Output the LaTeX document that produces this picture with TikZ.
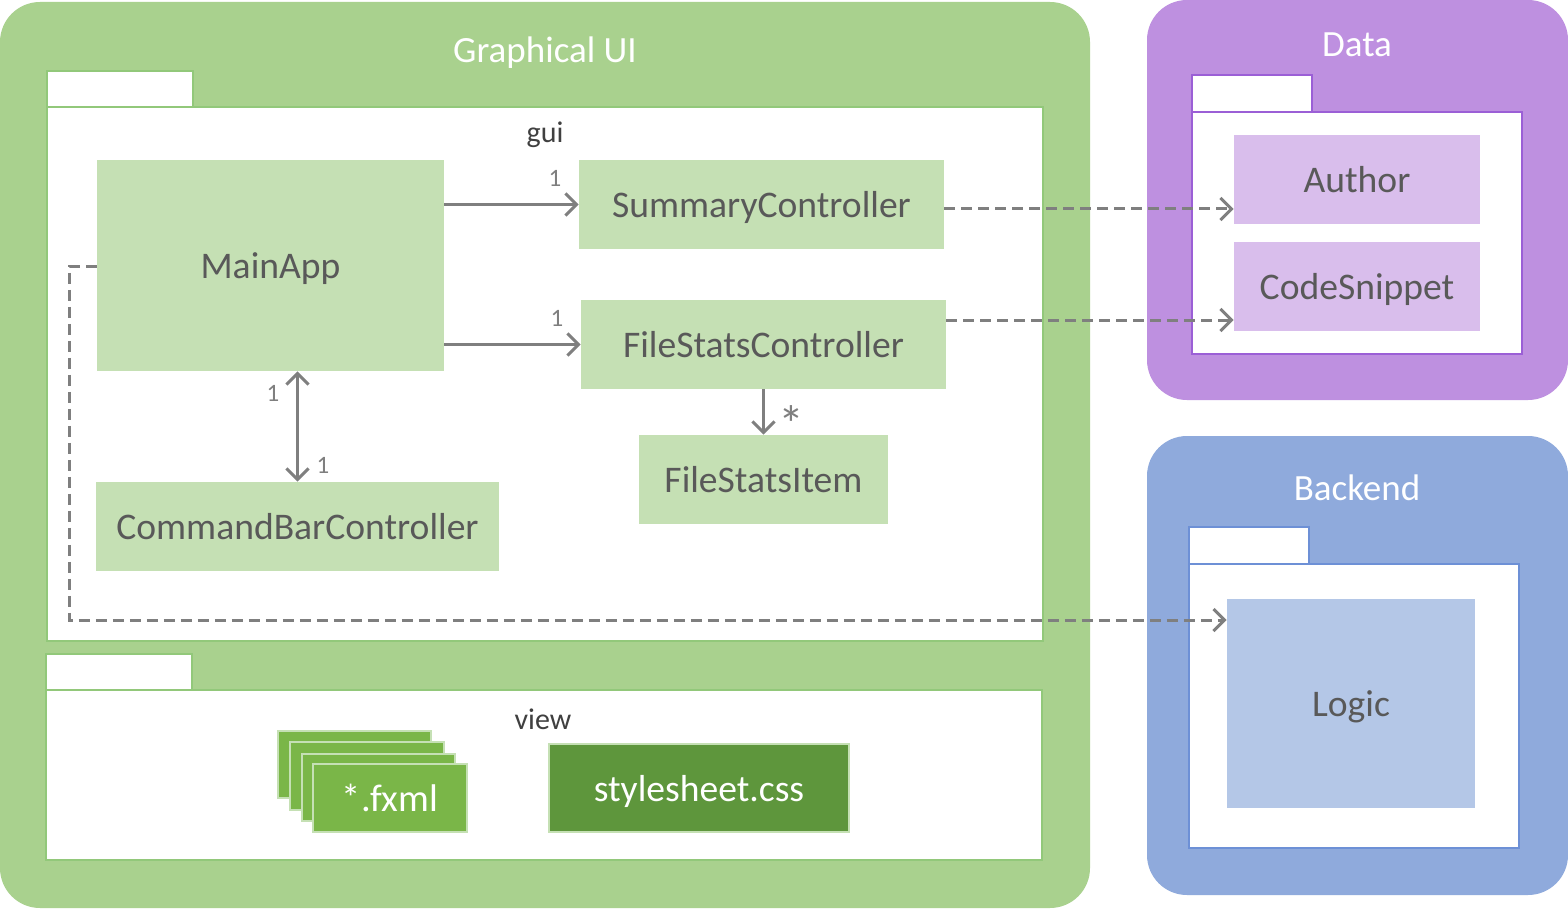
\documentclass[tikz,border=0pt]{standalone}
\usepackage{fontspec}
\setmainfont{Carlito}
\usetikzlibrary{arrows.meta,calc}
\definecolor{uigreen}{HTML}{A9D18E}
\definecolor{pkggreen}{HTML}{92C87A}
\definecolor{clsgreen}{HTML}{C5E0B4}
\definecolor{fxgreen}{HTML}{7AB648}
\definecolor{cssgreen}{HTML}{5E963C}
\definecolor{datapurple}{HTML}{BE90E0}
\definecolor{pkgpurple}{HTML}{9B5FD6}
\definecolor{clspurple}{HTML}{D9BEEC}
\definecolor{backblue}{HTML}{8FAADC}
\definecolor{pkgblue}{HTML}{6D90D6}
\definecolor{clsblue}{HTML}{B4C7E7}
\definecolor{txt}{HTML}{595959}
\definecolor{arr}{HTML}{7F7F7F}
\tikzset{
  cls/.style={draw=none, inner sep=0pt, text depth=0pt, font=\fontsize{18.8}{22}\selectfont, text=txt},
  grp/.style={rounded corners=20pt},
  pkgbox/.style={fill=white, line width=1pt},
  title/.style={text=white, font=\fontsize{18.5}{22}\selectfont},
  pkglabel/.style={text=black!75, font=\fontsize{15}{18}\selectfont},
  mult/.style={text=arr, font=\fontsize{12.5}{15}\selectfont},
  assoc/.style={draw=arr, line width=1.5pt, -{Straight Barb[length=5.5pt,width=11pt,line width=1.5pt]}},
  dep/.style={assoc, dash pattern=on 5.5pt off 3pt},
  fx/.style={fill=fxgreen, draw=clsgreen, line width=1pt},
}
\begin{document}
\begin{tikzpicture}[x=0.5pt,y=-0.5pt]
\path[use as bounding box, fill=white] (0,0) rectangle (1568,909);
% groups
\fill[uigreen, grp] (0,2) rectangle (1090,908);
\fill[datapurple, grp] (1147,0) rectangle (1568,400);
\fill[backblue, grp] (1147,436) rectangle (1568,895);
\node[title] (uititle) at (545,53) {Graphical UI};
\node[title] (datatitle) at (1357,45) {Data};
\node[title] (backtitle) at (1357,488) {Backend};
% gui package
\draw[pkgbox, draw=pkggreen] (47,71) rectangle (193,107);
\draw[pkgbox, draw=pkggreen] (47,107) rectangle (1043,641);
\node[pkglabel] (guilabel) at (545,135) {gui};
% view package
\draw[pkgbox, draw=pkggreen] (46,654) rectangle (192,690);
\draw[pkgbox, draw=pkggreen] (46,690) rectangle (1042,860);
\node[pkglabel] (viewlabel) at (543,719) {view};
% data package
\draw[pkgbox, draw=pkgpurple] (1192,75) rectangle (1312,112);
\draw[pkgbox, draw=pkgpurple] (1192,112) rectangle (1522,354);
% backend package
\draw[pkgbox, draw=pkgblue] (1189,527) rectangle (1309,564);
\draw[pkgbox, draw=pkgblue] (1189,564) rectangle (1519,848);
% classes
\node[cls, fill=clsgreen, minimum width=173.5pt, minimum height=105.5pt] (main) at (270.5,265.5) {MainApp};
\node[cls, fill=clsgreen, minimum width=182.5pt, minimum height=44.5pt] (summary) at (761.5,204.5) {SummaryController};
\node[cls, fill=clsgreen, minimum width=182.5pt, minimum height=44.5pt] (filestats) at (763.5,344.5) {FileStatsController};
\node[cls, fill=clsgreen, minimum width=124.5pt, minimum height=44.5pt] (item) at (763.5,479.5) {FileStatsItem};
\node[cls, fill=clsgreen, minimum width=201.5pt, minimum height=44.5pt] (cmdbar) at (297.5,526.5) {CommandBarController};
\node[cls, fill=clspurple, minimum width=123pt, minimum height=44.5pt] (author) at (1357,179.5) {Author};
\node[cls, fill=clspurple, minimum width=123pt, minimum height=44.5pt] (snippet) at (1357,286.5) {CodeSnippet};
\node[cls, fill=clsblue, minimum width=124pt, minimum height=104.5pt] (logic) at (1351,703.5) {Logic};
% view files
\draw[fx] (278,731) rectangle (431,798);
\draw[fx] (290,742) rectangle (444,810);
\draw[fx] (302,754) rectangle (455,821);
\node[cls, fx, text=white, font=\fontsize{19.3}{22}\selectfont, minimum width=77pt, minimum height=34pt] (fxml) at (390,798) {*.fxml};
\node[cls, fill=cssgreen, draw=clsgreen, line width=1pt, text=white, minimum width=150pt, minimum height=44pt] (css) at (699,788) {stylesheet.css};
% associations
\draw[assoc] (main.east |- summary.west) -- (summary.west);
\draw[assoc] (main.east |- filestats.west) -- (filestats.west);
\draw[assoc, {Straight Barb[length=5.5pt,width=11pt,line width=1.5pt]}-{Straight Barb[length=5.5pt,width=11pt,line width=1.5pt]}] (cmdbar.north |- main.south) -- (cmdbar.north);
\draw[assoc] (filestats.south) -- (item.north);
\node[mult] (m1) at (555,178) {1};
\node[mult] (m2) at (557,318) {1};
\node[mult] (m3) at (273,393) {1};
\node[mult] (m4) at (323,465) {1};
\node[mult, font=\fontsize{26}{30}\selectfont] (m5) at (791,424) {*};
% dependencies
\draw[dep] ([yshift=-2.25pt]summary.east) -- ([yshift=-2.25pt]summary.east -| author.west);
\draw[dep] ([yshift=12.25pt]filestats.east) -- ([yshift=12.25pt]filestats.east -| snippet.west);
\coordinate (bend) at (69,620);
\draw[dep] ([yshift=-0.5pt]main.west) -| (bend) -- (bend -| logic.west);
\end{tikzpicture}
\end{document}
